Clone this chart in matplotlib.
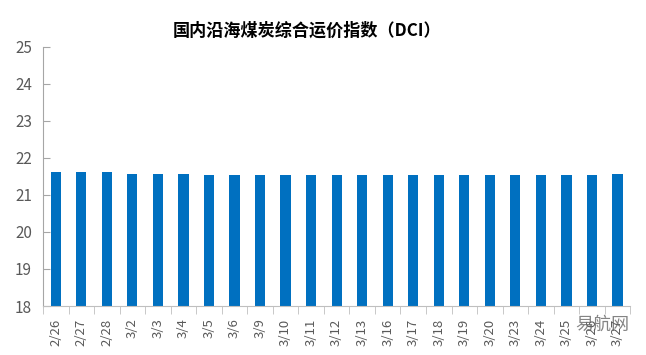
import numpy as np
import matplotlib.pyplot as plt

plt.rcParams['font.family'] = ['Noto Sans CJK SC', 'DejaVu Sans']

# dates on the x axis and DCI values
dates = ["2/26", "2/27", "2/28", "3/2", "3/3", "3/4", "3/5", "3/6", "3/9",
         "3/10", "3/11", "3/12", "3/13", "3/16", "3/17", "3/18", "3/19",
         "3/20", "3/23", "3/24", "3/25", "3/26", "3/27"]
dci = [21.62, 21.62, 21.62, 21.57, 21.57, 21.57, 21.54, 21.54, 21.54,
       21.54, 21.54, 21.54, 21.54, 21.54, 21.54, 21.54, 21.54,
       21.54, 21.54, 21.54, 21.54, 21.54, 21.57]
title = "国内沿海煤炭综合运价指数（DCI）"


def main():
    fig = plt.figure(figsize=(6.46, 3.55), dpi=100)
    ax = fig.add_axes([0.0666, 0.138, 0.909, 0.730])
    x = np.arange(len(dates))
    ax.bar(x, dci, width=0.4, color="#0070C0", bottom=0)

    gray = "#595959"
    line_gray = "#BFBFBF"
    ax.set_ylim(18, 25)
    ax.set_xlim(-0.5, len(dates) - 0.5)
    ax.set_yticks(range(18, 26))
    ax.tick_params(axis="y", direction="in", length=5, color="#A6A6A6",
                   labelcolor=gray, labelsize=11, pad=8)
    ax.set_xticks(x)
    ax.set_xticklabels(dates, rotation=90, fontsize=9.5, color=gray)
    ax.tick_params(axis="x", which="major", length=0, pad=9)
    ax.set_xticks(np.arange(len(dates) + 1) - 0.5, minor=True)
    ax.tick_params(axis="x", which="minor", length=6, color=line_gray)

    for s in ["top", "right"]:
        ax.spines[s].set_visible(False)
    ax.spines["left"].set_color("#A6A6A6")
    ax.spines["bottom"].set_color(line_gray)

    fig.text(0.476, 0.915, title, ha="center", va="center",
             fontsize=12.3, fontweight="bold", color="black")
    # watermark
    fig.text(0.932, 0.085, "易航网", ha="center", va="center",
             fontsize=13, color="#666666", alpha=0.8)

    fig.savefig("out.png", dpi=100)


if __name__ == "__main__":
    main()
